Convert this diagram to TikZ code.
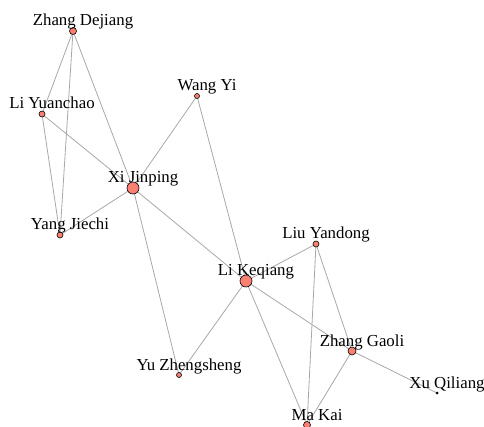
\documentclass[tikz,border=0pt]{standalone}
\usepackage{fontspec}
\setmainfont{Liberation Serif}
\begin{document}
\begin{tikzpicture}[x=1pt,y=-1pt,
  pt/.style={circle,draw=black,fill=salmonc,line width=0.6pt,inner sep=0pt,minimum size=#1},
  lbl/.style={anchor=base,font=\fontsize{16.8}{19}\selectfont,inner sep=0pt},
  edge/.style={draw=edgec,line width=0.8pt}]
\definecolor{salmonc}{HTML}{FA8072}
\definecolor{edgec}{HTML}{A8A8A8}
\useasboundingbox (0,0) rectangle (484,427);
% node coordinates
\coordinate (zd) at (73,31);
\coordinate (ly) at (42,114);
\coordinate (wy) at (197,96);
\coordinate (xj) at (133,188);
\coordinate (yj) at (60,235);
\coordinate (lk) at (246,281);
\coordinate (lyd) at (316,244);
\coordinate (zg) at (352,351);
\coordinate (xq) at (437,393);
\coordinate (mk) at (307,425);
\coordinate (yz) at (179,375);
% edges
\draw[edge] (zd) -- (ly);
\draw[edge] (zd) -- (yj);
\draw[edge] (zd) -- (xj);
\draw[edge] (ly) -- (yj);
\draw[edge] (ly) -- (xj);
\draw[edge] (yj) -- (xj);
\draw[edge] (wy) -- (xj);
\draw[edge] (wy) -- (lk);
\draw[edge] (xj) -- (lk);
\draw[edge] (xj) -- (yz);
\draw[edge] (lk) -- (yz);
\draw[edge] (lk) -- (lyd);
\draw[edge] (lk) -- (zg);
\draw[edge] (lk) -- (mk);
\draw[edge] (lyd) -- (zg);
\draw[edge] (lyd) -- (mk);
\draw[edge] (zg) -- (mk);
\draw[edge] (zg) -- (xq);
% nodes
\node[pt=7pt] (nzd) at (zd) {};
\node[pt=6pt] (nly) at (ly) {};
\node[pt=5pt] (nwy) at (wy) {};
\node[pt=12pt] (nxj) at (xj) {};
\node[pt=6pt] (nyj) at (yj) {};
\node[pt=12pt] (nlk) at (lk) {};
\node[pt=6pt] (nlyd) at (lyd) {};
\node[pt=8pt] (nzg) at (zg) {};
\node[circle,fill=black,inner sep=0pt,minimum size=3pt] (nxq) at (xq) {};
\node[pt=7pt] (nmk) at (mk) {};
\node[pt=5pt] (nyz) at (yz) {};
% labels
\node[lbl] (tzd) at (83,26) {Zhang Dejiang};
\node[lbl] (tly) at (52,109) {Li Yuanchao};
\node[lbl] (twy) at (207,91) {Wang Yi};
\node[lbl] (txj) at (143,183) {Xi Jinping};
\node[lbl] (tyj) at (70,230) {Yang Jiechi};
\node[lbl] (tlk) at (256,276) {Li Keqiang};
\node[lbl] (tlyd) at (326,239) {Liu Yandong};
\node[lbl] (tzg) at (362,346) {Zhang Gaoli};
\node[lbl] (txq) at (447,388) {Xu Qiliang};
\node[lbl] (tmk) at (317,420) {Ma Kai};
\node[lbl] (tyz) at (189,370) {Yu Zhengsheng};
\end{tikzpicture}
\end{document}
